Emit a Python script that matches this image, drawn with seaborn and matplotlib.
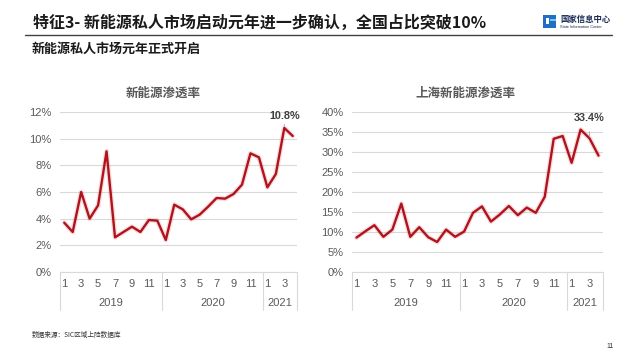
import matplotlib
matplotlib.use("Agg")
import matplotlib.pyplot as plt
import matplotlib.patheffects as pe
import matplotlib.transforms as mtrans
from matplotlib.patches import Rectangle
import numpy as np
import pandas as pd
import seaborn as sns

# ---------------- data ----------------
years = ["2019", "2020", "2021"]
months_per_year = [12, 12, 4]
national_rate = [3.7, 3.0, 6.0, 4.0, 5.0, 9.05, 2.6, 3.0, 3.4, 3.0, 3.9, 3.85,
                 2.4, 5.05, 4.7, 3.95, 4.3, 4.9, 5.55, 5.5, 5.85, 6.55, 8.9, 8.6,
                 6.35, 7.35, 10.8, 10.2]
shanghai_rate = [8.6, 10.2, 11.7, 8.8, 10.6, 17.1, 8.8, 11.2, 8.7, 7.5, 10.6, 8.8,
                 10.1, 14.8, 16.4, 12.6, 14.4, 16.5, 14.2, 16.1, 14.8, 18.8, 33.3, 34.0,
                 27.3, 35.6, 33.4, 29.1]
national_label = "10.8%"
shanghai_label = "33.4%"
left_yticks = [0, 2, 4, 6, 8, 10, 12]
right_yticks = [0, 5, 10, 15, 20, 25, 30, 35, 40]

title = "特征3- 新能源私人市场启动元年进一步确认，全国占比突破10%"
subtitle = "新能源私人市场元年正式开启"
left_title = "新能源渗透率"
right_title = "上海新能源渗透率"
source = "数据来源：SIC区域上险数据库"

month_nums = [m for n in months_per_year for m in range(1, n + 1)]
year_of = [y for y, n in zip(years, months_per_year) for _ in range(n)]
idx = np.arange(len(month_nums))
df = pd.DataFrame({"i": idx, "month": month_nums, "year": year_of,
                   "national": national_rate, "shanghai": shanghai_rate})

# ---------------- style ----------------
sns.set_theme(style="white")
plt.rcParams["font.family"] = ["Liberation Sans", "Noto Sans CJK SC", "DejaVu Sans"]
CJK = ["Noto Sans CJK SC", "DejaVu Sans"]
RED = "#B0131D"
GRID = "#D9D9D9"
TXT = "#595959"

W, H = 640, 360
fig = plt.figure(figsize=(6.4, 3.6), dpi=100)
fig.patch.set_facecolor("white")

def fx(px):
    return px / W

def fy(py):
    return 1 - py / H

# header
fig.text(fx(33), fy(23), title, family=CJK, fontsize=11.5, fontweight="bold",
         color="#1a1a1a", ha="left", va="center")
fig.add_artist(plt.Line2D([fx(25), fx(612)], [fy(35), fy(35)], color="#404040", lw=1.0))
fig.text(fx(32), fy(49), subtitle, family=CJK, fontsize=9.4, fontweight="bold",
         color="#1a1a1a", ha="left", va="center")

# logo
blue = "#1F6FC5"
fig.add_artist(Rectangle((fx(543), fy(28)), 13 / W, 13 / H, transform=fig.transFigure,
                         facecolor=blue, edgecolor="none"))
fig.add_artist(Rectangle((fx(546), fy(24)), 3 / W, 6 / H, transform=fig.transFigure,
                         facecolor="white", edgecolor="none"))
fig.add_artist(Rectangle((fx(550), fy(21)), 6 / W, 2 / H, transform=fig.transFigure,
                         facecolor="#7FC3F0", edgecolor="none"))
fig.text(fx(560), fy(19), "国家信息中心", family=CJK, fontsize=6, fontweight="bold",
         color="#1a2a55", ha="left", va="center")
fig.text(fx(560), fy(26.5), "State Information Center", fontsize=2.8,
         color="#1a2a55", ha="left", va="center")

# footer
fig.text(fx(32), fy(335), source, family=CJK, fontsize=4.8, color="#333333",
         ha="left", va="center")
fig.text(fx(610), fy(347), "11", fontsize=5, color="#333333", ha="center", va="center")


def make_panel(left_px, right_px, col, yticks, ttl, ttl_x, label, label_y):
    ax = fig.add_axes([fx(left_px), fy(272), (right_px - left_px) / W, (272 - 112) / H])
    sns.lineplot(data=df, x="i", y=col, ax=ax, color=RED, linewidth=1.7,
                 path_effects=[pe.Stroke(linewidth=3.6, foreground=(0.85, 0.3, 0.3, 0.18)),
                               pe.Normal()])
    n = len(df)
    ax.set_xlim(-0.5, n - 0.5)
    ax.set_ylim(yticks[0], yticks[-1])
    ax.set_yticks(yticks)
    ax.set_yticklabels([f"{t}%" for t in yticks], fontsize=8, color=TXT)
    odd = df[df["month"] % 2 == 1]
    ax.set_xticks(odd["i"].tolist())
    ax.set_xticklabels([str(m) for m in odd["month"]], fontsize=8, color=TXT)
    ax.tick_params(axis="x", length=0, pad=5)
    ax.tick_params(axis="y", length=0, pad=6)
    ax.set_xlabel("")
    ax.set_ylabel("")
    for s in ["top", "right", "left"]:
        ax.spines[s].set_visible(False)
    ax.spines["bottom"].set_color(GRID)
    ax.spines["bottom"].set_linewidth(0.8)
    ax.yaxis.grid(True, color=GRID, linewidth=0.8)
    ax.xaxis.grid(False)
    ax.set_axisbelow(True)

    trans = mtrans.blended_transform_factory(ax.transData, ax.transAxes)
    start = -0.5
    bounds = [start]
    for y, cnt in zip(years, months_per_year):
        mid = start + cnt / 2
        ax.text(mid, -0.194, y, transform=trans, fontsize=8, color=TXT,
                ha="center", va="center")
        start += cnt
        bounds.append(start)
    for b in bounds:
        ax.plot([b, b], [0, -0.2375], transform=trans, color=GRID, lw=0.8,
                clip_on=False)

    # annotation over the labelled point
    k = df.index[df["month"].eq(3) & df["year"].eq(years[-1])][0]
    ax.annotate(label, xy=(df.loc[k, "i"], df.loc[k, col]),
                xytext=(df.loc[k, "i"], label_y), textcoords="data",
                ha="center", va="center", fontsize=7.8, fontweight="bold",
                color="#404040",
                arrowprops=dict(arrowstyle="-", color="#A6A6A6", lw=0.6,
                                shrinkA=4, shrinkB=1))
    fig.text(fx(ttl_x), fy(93), ttl, family=CJK, fontsize=9, fontweight="bold",
             color=TXT, ha="center", va="center")
    return ax


make_panel(60, 297, "national", left_yticks, left_title, 163, national_label, 11.7)
make_panel(352, 603, "shanghai", right_yticks, right_title, 465, shanghai_label, 38.5)

fig.savefig("out.png", dpi=100, facecolor="white")
